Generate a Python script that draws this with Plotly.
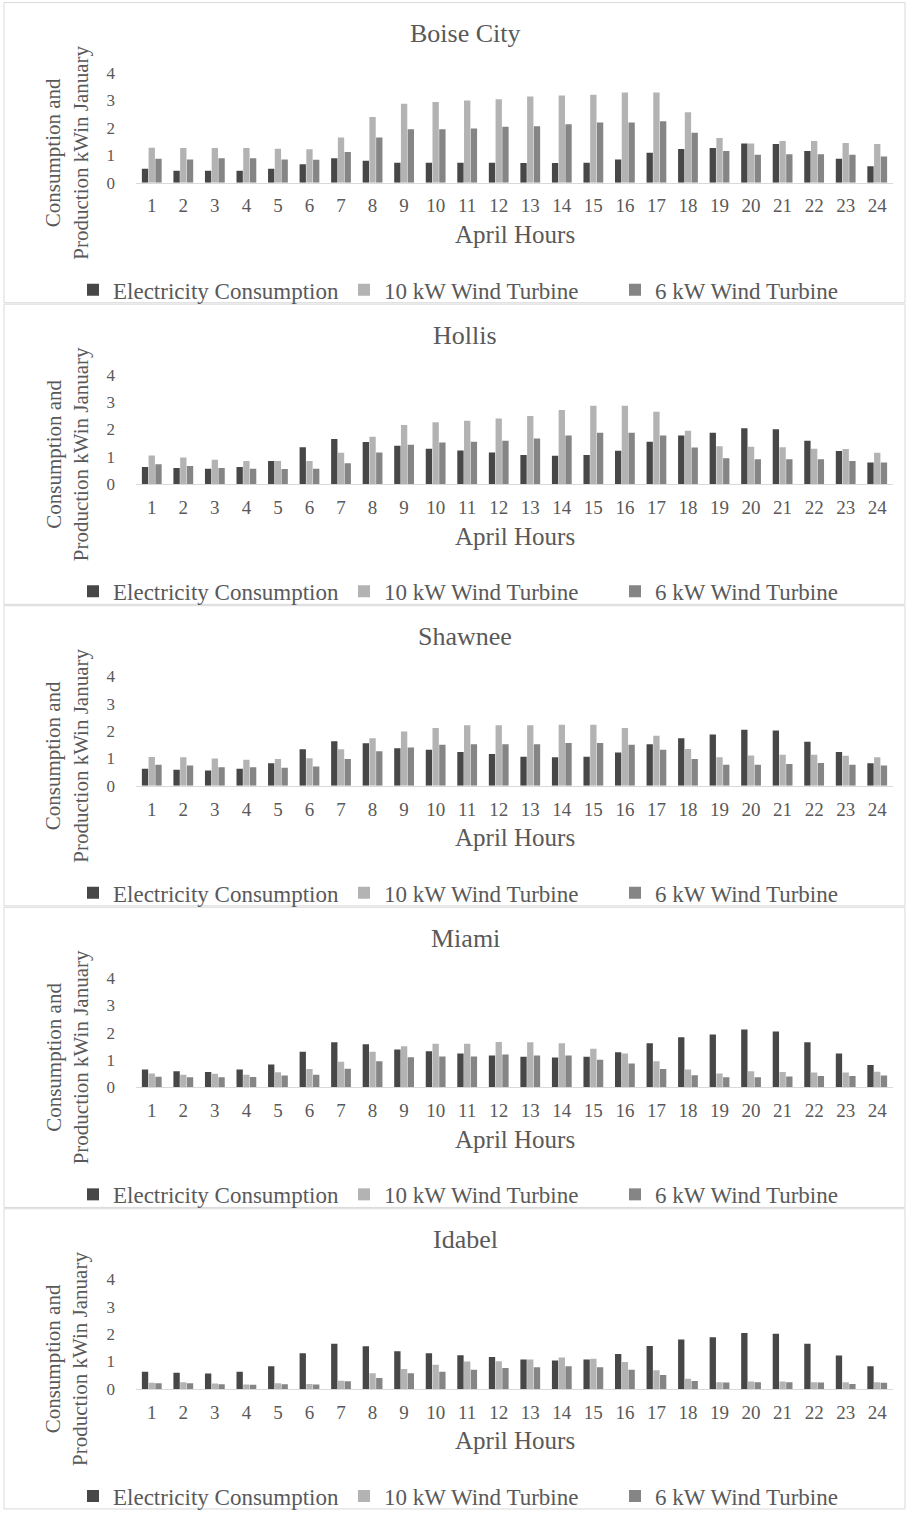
import plotly.graph_objects as go

# ---------------- data ----------------
hours = [str(h) for h in range(1, 25)]
cities = ["Boise City", "Hollis", "Shawnee", "Miami", "Idabel"]
series_names = ["Electricity Consumption", "10 kW Wind Turbine", "6 kW Wind Turbine"]

boise_consumption = [0.51, 0.44, 0.44, 0.44, 0.51, 0.67, 0.89, 0.80, 0.73, 0.73, 0.73, 0.73,
                     0.72, 0.72, 0.73, 0.85, 1.09, 1.23, 1.27, 1.43, 1.41, 1.16, 0.87, 0.60]
boise_10kw = [1.28, 1.27, 1.27, 1.27, 1.24, 1.22, 1.65, 2.40, 2.88, 2.95, 3.00, 3.05,
              3.15, 3.18, 3.21, 3.29, 3.29, 2.57, 1.63, 1.43, 1.52, 1.52, 1.45, 1.41]
boise_6kw = [0.87, 0.85, 0.89, 0.89, 0.85, 0.84, 1.12, 1.65, 1.95, 1.95, 1.98, 2.04,
             2.06, 2.13, 2.20, 2.20, 2.24, 1.82, 1.16, 1.02, 1.04, 1.04, 1.02, 0.96]

hollis_consumption = [0.63, 0.59, 0.57, 0.63, 0.85, 1.35, 1.65, 1.54, 1.41, 1.30, 1.23, 1.16,
                      1.07, 1.04, 1.07, 1.22, 1.55, 1.78, 1.88, 2.04, 2.01, 1.59, 1.21, 0.79]
hollis_10kw = [1.05, 0.98, 0.89, 0.85, 0.85, 0.85, 1.15, 1.73, 2.16, 2.26, 2.32, 2.40,
               2.49, 2.71, 2.87, 2.87, 2.65, 1.95, 1.39, 1.37, 1.35, 1.30, 1.29, 1.15]
hollis_6kw = [0.73, 0.67, 0.59, 0.57, 0.56, 0.57, 0.77, 1.16, 1.44, 1.52, 1.55, 1.59,
              1.67, 1.78, 1.88, 1.88, 1.78, 1.34, 0.95, 0.91, 0.91, 0.91, 0.85, 0.79]

shawnee_consumption = [0.62, 0.59, 0.56, 0.62, 0.82, 1.33, 1.63, 1.55, 1.37, 1.32, 1.23, 1.16,
                       1.06, 1.04, 1.06, 1.22, 1.52, 1.74, 1.87, 2.05, 2.02, 1.61, 1.23, 0.82]
shawnee_10kw = [1.05, 1.04, 1.00, 0.95, 0.98, 1.01, 1.33, 1.74, 1.98, 2.11, 2.21, 2.21,
                2.21, 2.23, 2.23, 2.11, 1.83, 1.34, 1.04, 1.11, 1.13, 1.13, 1.10, 1.04]
shawnee_6kw = [0.77, 0.74, 0.68, 0.68, 0.66, 0.70, 0.98, 1.26, 1.40, 1.50, 1.52, 1.52,
               1.52, 1.56, 1.56, 1.50, 1.32, 0.98, 0.77, 0.77, 0.80, 0.83, 0.77, 0.74]

miami_consumption = [0.65, 0.59, 0.56, 0.65, 0.83, 1.30, 1.65, 1.57, 1.38, 1.32, 1.24, 1.16,
                     1.12, 1.09, 1.12, 1.28, 1.61, 1.83, 1.93, 2.11, 2.04, 1.65, 1.24, 0.82]
miami_10kw = [0.51, 0.46, 0.50, 0.46, 0.55, 0.67, 0.93, 1.30, 1.50, 1.59, 1.59, 1.66,
              1.65, 1.61, 1.41, 1.24, 0.95, 0.65, 0.51, 0.59, 0.56, 0.54, 0.54, 0.57]
miami_6kw = [0.39, 0.37, 0.37, 0.38, 0.43, 0.46, 0.68, 0.95, 1.10, 1.13, 1.13, 1.20,
             1.16, 1.16, 1.01, 0.87, 0.67, 0.44, 0.37, 0.37, 0.40, 0.41, 0.41, 0.43]

idabel_consumption = [0.63, 0.59, 0.56, 0.63, 0.83, 1.30, 1.65, 1.56, 1.37, 1.30, 1.23, 1.16,
                      1.07, 1.04, 1.07, 1.27, 1.57, 1.80, 1.89, 2.04, 2.01, 1.65, 1.22, 0.83]
idabel_10kw = [0.22, 0.24, 0.20, 0.16, 0.21, 0.18, 0.30, 0.57, 0.73, 0.88, 1.00, 1.01,
               1.07, 1.15, 1.10, 0.98, 0.68, 0.37, 0.24, 0.27, 0.27, 0.24, 0.24, 0.24]
idabel_6kw = [0.21, 0.21, 0.17, 0.15, 0.17, 0.16, 0.28, 0.40, 0.57, 0.63, 0.70, 0.76,
              0.79, 0.83, 0.79, 0.70, 0.51, 0.29, 0.23, 0.24, 0.24, 0.23, 0.18, 0.22]

y_ticks = [0, 1, 2, 3, 4]

panel_data = [
    (boise_consumption, boise_10kw, boise_6kw),
    (hollis_consumption, hollis_10kw, hollis_6kw),
    (shawnee_consumption, shawnee_10kw, shawnee_6kw),
    (miami_consumption, miami_10kw, miami_6kw),
    (idabel_consumption, idabel_10kw, idabel_6kw),
]

# ---------------- style ----------------
W, H = 908, 1520
PANEL = 301.4
PLOT_L, PLOT_R = 136, 893
TOP0, BASE0 = 73.5, 183.0
FONT = "Liberation Serif, Times New Roman, serif"
TXT = "#595959"
colors = ["#474747", "#b3b3b3", "#858585"]

# the rendered page is slightly squeezed/offset vertically; compensate
SY, OY = 0.987, 9.4


def fy(px):
    return 1 - ((px - OY) / SY) / H


def fx(px):
    return px / W


fig = go.Figure()
layout = dict(
    width=W, height=H,
    margin=dict(l=0, r=0, t=0, b=0),
    paper_bgcolor="white", plot_bgcolor="white",
    barmode="group", bargap=0.36, bargroupgap=0.06,
    font=dict(family=FONT, color=TXT),
    annotations=[], shapes=[],
)

for k, (city, vals) in enumerate(zip(cities, panel_data)):
    sfx = "" if k == 0 else str(k + 1)
    off = PANEL * k
    leg = "legend" + sfx
    for name, v, c in zip(series_names, vals, colors):
        fig.add_trace(go.Bar(
            x=hours, y=v, name=name, marker=dict(color=c, line=dict(width=0)),
            xaxis="x" + sfx, yaxis="y" + sfx, legend=leg,
        ))
    layout["xaxis" + sfx] = dict(
        domain=[fx(PLOT_L), fx(PLOT_R)], anchor="y" + sfx, type="category",
        showgrid=False, showline=True, linecolor="#d9d9d9", linewidth=1,
        ticks="", tickfont=dict(family=FONT, size=19, color=TXT),
        ticklabelstandoff=6, fixedrange=True,
    )
    layout["yaxis" + sfx] = dict(
        domain=[fy(BASE0 + off), fy(TOP0 + off)], anchor="x" + sfx,
        range=[0, 4], tickvals=y_ticks, showgrid=False, zeroline=False,
        showline=False, ticks="", tickfont=dict(family=FONT, size=17, color=TXT),
        ticklabelstandoff=20, fixedrange=True,
    )
    layout[leg] = dict(
        orientation="h", x=fx(73), xanchor="left",
        y=fy(290 + off), yanchor="middle",
        font=dict(family=FONT, size=23, color=TXT),
        entrywidth=226, entrywidthmode="pixels",
        itemwidth=30, bgcolor="rgba(0,0,0,0)", traceorder="normal",
    )
    layout["annotations"] += [
        dict(text=city, x=fx(465), y=fy(34 + off), xref="paper", yref="paper",
             showarrow=False, xanchor="center", yanchor="middle",
             font=dict(family=FONT, size=26, color=TXT)),
        dict(text="April Hours", x=fx(515), y=fy(235 + off), xref="paper", yref="paper",
             showarrow=False, xanchor="center", yanchor="middle",
             font=dict(family=FONT, size=25, color=TXT)),
        dict(text="Consumption and<br>Production kWin January", x=fx(67), y=fy(153 + off),
             xref="paper", yref="paper", showarrow=False, textangle=-90,
             xanchor="center", yanchor="middle",
             font=dict(family=FONT, size=21, color=TXT)),
    ]
    layout["shapes"].append(dict(
        type="rect", xref="paper", yref="paper",
        x0=fx(4), x1=fx(905), y0=fy(303 + off), y1=fy(3 + off),
        line=dict(color="#d9d9d9", width=1), fillcolor="rgba(0,0,0,0)", layer="below",
    ))

fig.update_layout(**layout)
fig.write_html("out.html")
